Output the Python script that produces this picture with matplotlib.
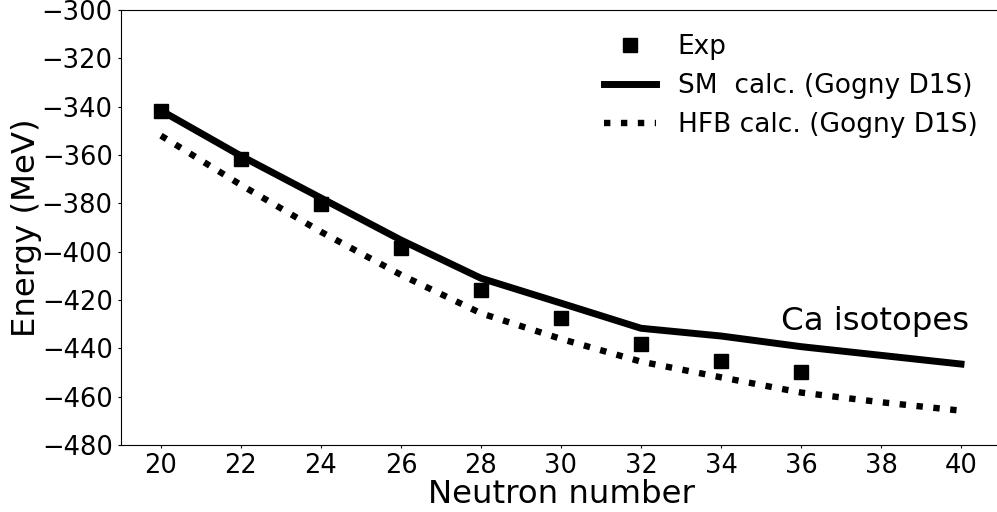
import matplotlib.pyplot as plt

# data
neutrons_exp = [20, 22, 24, 26, 28, 30, 32, 34, 36]
energy_exp = [-341.6, -361.5, -380.4, -398.3, -415.8, -427.3, -438.2, -445.2, -449.8]

neutrons_calc = [20, 22, 24, 26, 28, 30, 32, 34, 36, 38, 40]
energy_sm = [-341.6, -360.4, -377.8, -395.2, -411.0, -421.3, -431.7, -434.9, -439.3, -442.9, -446.5]
energy_hfb = [-352.0, -372.4, -391.8, -409.6, -425.5, -436.1, -445.5, -452.0, -458.3, -462.3, -465.8]

x_ticks = [20, 22, 24, 26, 28, 30, 32, 34, 36, 38, 40]
y_ticks = [-480, -460, -440, -420, -400, -380, -360, -340, -320, -300]

fig = plt.figure(figsize=(9.97, 5.12), dpi=100)
ax = fig.add_axes([121 / 997, 1 - 445 / 512, (1001 - 121) / 997, 435 / 512])

ax.plot(neutrons_exp, energy_exp, "s", color="black", markersize=10, label="Exp", zorder=3)
ax.plot(neutrons_calc, energy_sm, "-", color="black", linewidth=5, label="SM  calc. (Gogny D1S)")
ax.plot(neutrons_calc, energy_hfb, ":", color="black", linewidth=4.6, label="HFB calc. (Gogny D1S)")

ax.set_xlim(19, 41)
ax.set_ylim(-480, -300)
ax.set_xticks(x_ticks)
ax.set_yticks(y_ticks)
ax.tick_params(labelsize=18.5, length=2.5)
ax.set_xlabel("Neutron number", fontsize=23.3, labelpad=0)
ax.set_ylabel("Energy (MeV)", fontsize=23.3, labelpad=0)

ax.text(35.5, -429, "Ca isotopes", fontsize=23.3, va="center")

ax.legend(loc="upper right", frameon=False, fontsize=19, bbox_to_anchor=(1.0, 1.0))

fig.savefig("out.png", dpi=100)
